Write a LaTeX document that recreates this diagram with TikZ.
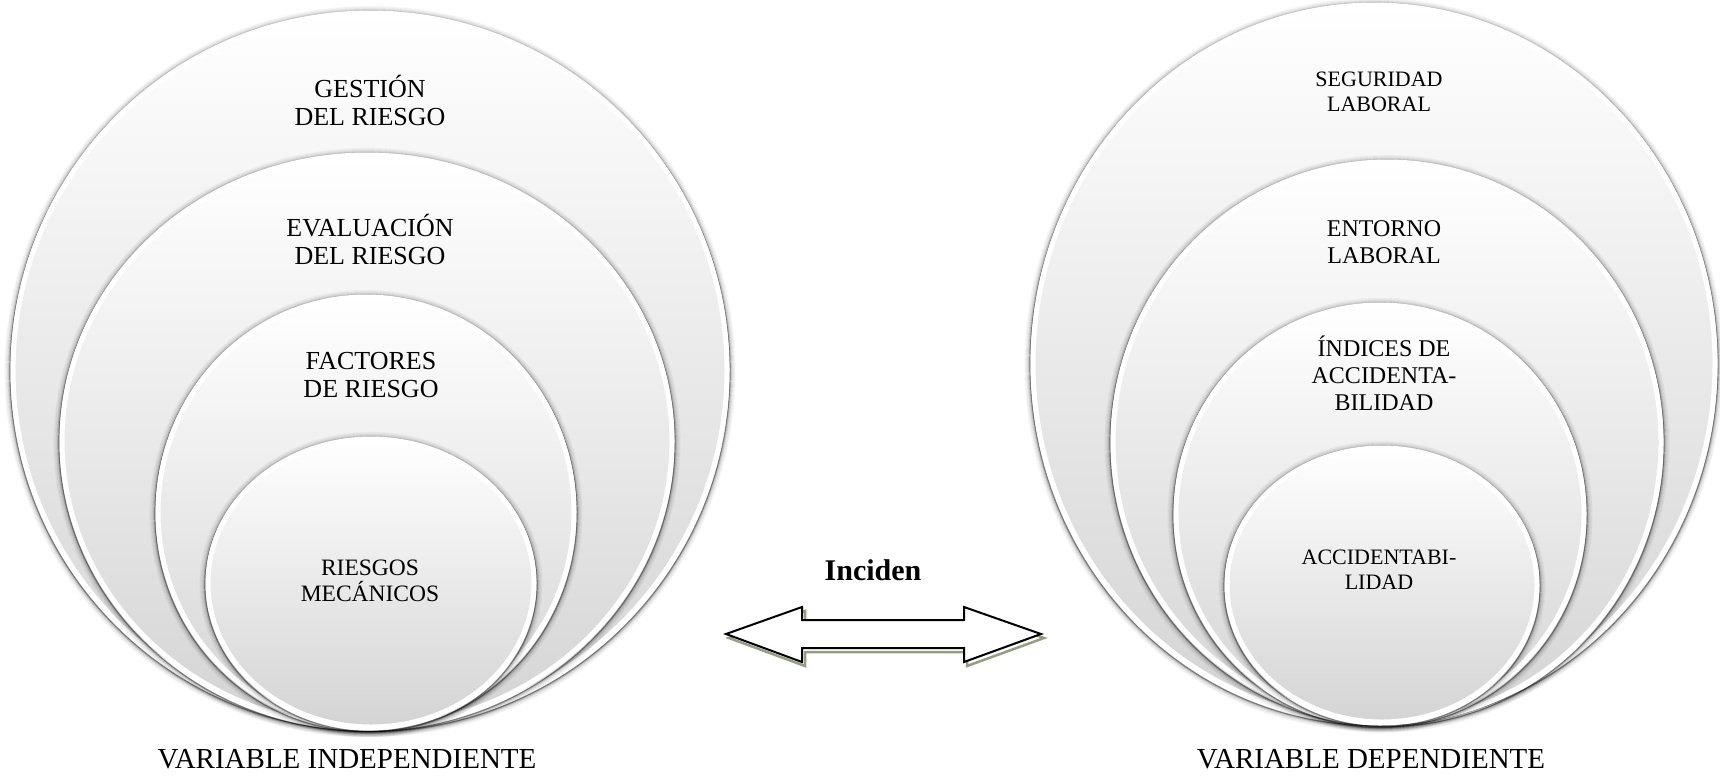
\documentclass[tikz,border=0pt]{standalone}
\usepackage{fontspec}
\setmainfont{Liberation Serif}
\usetikzlibrary{shapes.geometric}
\definecolor{arrowshadow}{RGB}{150,158,128}
\begin{document}
\begin{tikzpicture}[x=1pt,y=-1pt,
  venn/.style={ellipse, inner sep=0pt, outer sep=0pt, top color=white, bottom color=black!17, draw=white, line width=5pt},
  lblL/.style={align=center, inner sep=0pt, font=\fontsize{26}{28}\selectfont},
  lblS/.style={align=center, inner sep=0pt, font=\fontsize{23.5}{26}\selectfont},
  lblR/.style={align=center, inner sep=0pt, font=\fontsize{22}{25}\selectfont},
  lblRL/.style={align=center, inner sep=0pt, font=\fontsize{24}{27}\selectfont},
  caption/.style={inner sep=0pt, font=\fontsize{29}{32}\selectfont},
  arrowbody/.style={fill=white, draw=black, line width=2pt, line join=miter},
  arrowshade/.style={draw=arrowshadow, line width=2.5pt, line join=miter}]
\useasboundingbox (0,0) rectangle (1720,777);
\fill[white] (0,0) rectangle (1720,777);

% stacked ellipses
\foreach \cx/\cy/\rx/\ry/\nm in {
  370/370/357/357/L1, 367/441/305/286/L2, 366/512/208/215/L3, 371/583/163/144/L4,
  1374/363/341/358/R1, 1387/442/274/280/R2, 1380/514/204/209/R3, 1382/585/155/137/R4}{
  \foreach \i/\o in {0/0.5,1/0.22,2/0.13,3/0.08,4/0.05,5/0.03}{
    \draw[black, opacity=\o, line width=1.2pt] (\cx,\cy+1.5) ellipse [x radius=\rx+3+\i, y radius=\ry+3+\i];
  }
  \node[venn, minimum width=2*\rx, minimum height=2*\ry] (\nm) at (\cx,\cy) {};
}

% labels left
\node[lblL] (tL1) at (370,100) {GESTIÓN\\DEL RIESGO};
\node[lblL] (tL2) at (370,239) {EVALUACIÓN\\DEL RIESGO};
\node[lblL] (tL3) at (371,375) {FACTORES\\DE RIESGO};
\node[lblS] (tL4) at (370,581) {RIESGOS\\MECÁNICOS};

% labels right
\node[lblR] (tR1) at (1379,92) {SEGURIDAD\\LABORAL};
\node[lblRL] (tR2) at (1384,242) {ENTORNO\\LABORAL};
\node[lblRL] (tR3) at (1384,373) {ÍNDICES DE\\ACCIDENTA-\\BILIDAD};
\node[lblR] (tR4) at (1379,570) {ACCIDENTABI-\\LIDAD};

% captions
\node[caption] (capL) at (347,759) {VARIABLE INDEPENDIENTE};
\node[caption] (capR) at (1371,759) {VARIABLE DEPENDIENTE};
\node[caption, font=\fontsize{30}{33}\selectfont\bfseries] (inc) at (873,570) {Inciden};

% double arrow
\draw[arrowshade, shift={(3,4)}] (726,634) -- (802,607) -- (802,620) -- (964,620) -- (964,607) -- (1041,634) -- (964,662) -- (964,648) -- (802,648) -- (802,662) -- cycle;
\draw[arrowbody] (726,634) -- (802,607) -- (802,620) -- (964,620) -- (964,607) -- (1041,634) -- (964,662) -- (964,648) -- (802,648) -- (802,662) -- cycle;
\end{tikzpicture}
\end{document}
